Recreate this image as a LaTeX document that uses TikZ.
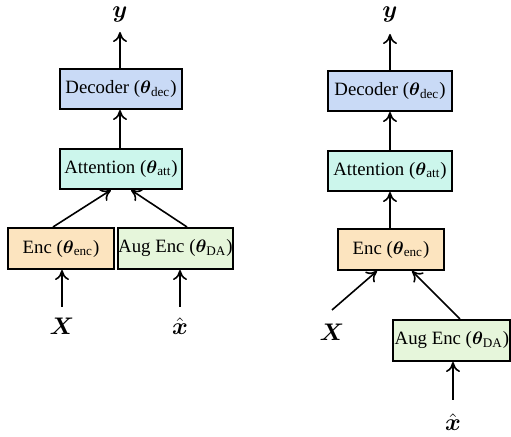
\documentclass[tikz,border=0pt]{standalone}
\usepackage{amsmath}
\usepackage{fontspec}
\setmainfont{Liberation Serif}
\usetikzlibrary{arrows.meta}
\definecolor{decfill}{HTML}{C9DAF6}
\definecolor{attfill}{HTML}{CCF6EC}
\definecolor{encfill}{HTML}{FCE4BF}
\definecolor{augfill}{HTML}{E6F6DB}
\begin{document}
\begin{tikzpicture}[x=0.5pt,y=-0.5pt,
  blk/.style={draw=black,line width=1pt,inner sep=0pt,minimum height=20pt,font=\fontsize{9.4}{11}\selectfont},
  conn/.style={line width=0.8pt,-{To[length=5pt,width=7pt]}},
  lbl/.style={inner sep=0pt,font=\fontsize{11.5}{13}\selectfont}]
\useasboundingbox (0,0) rectangle (511,437);
% left
\node[blk,fill=decfill,minimum width=61pt] (dec1) at (121,89) {Decoder ($\boldsymbol{\theta}_{\text{dec}}$)};
\node[blk,fill=attfill,minimum width=61pt] (att1) at (121,169) {Attention ($\boldsymbol{\theta}_{\text{att}}$)};
\node[blk,fill=encfill,minimum width=53pt,minimum height=20.5pt] (enc1) at (61,248.5) {Enc ($\boldsymbol{\theta}_{\text{enc}}$)};
\node[blk,fill=augfill,minimum width=55.5pt,minimum height=20.5pt] (aug1) at (175.5,248.5) {Aug Enc ($\boldsymbol{\theta}_{\text{DA}}$)};
\node[lbl] (y1) at (120,15) {$\boldsymbol{y}$};
\node[lbl] (X1) at (62,326) {$\boldsymbol{X}$};
\node[lbl] (xh1) at (180,326) {$\hat{\boldsymbol{x}}$};
\coordinate (t1) at (120,32);
\coordinate (s1) at (62,307);
\coordinate (s2) at (180,307);
\draw[conn] (dec1.north -| t1) -- (t1);
\draw[conn] (att1.north -| 120,0) -- (dec1.south -| 120,0);
\draw[conn] (enc1.north -| 53,0) -- (att1.south -| 111,0);
\draw[conn] (aug1.north -| 187,0) -- (att1.south -| 131,0);
\draw[conn] (s1) -- (enc1.south -| s1);
\draw[conn] (s2) -- (aug1.south -| s2);
% right
\node[blk,fill=decfill,minimum width=62pt] (dec2) at (390,91) {Decoder ($\boldsymbol{\theta}_{\text{dec}}$)};
\node[blk,fill=attfill,minimum width=62pt] (att2) at (390,171) {Attention ($\boldsymbol{\theta}_{\text{att}}$)};
\node[blk,fill=encfill,minimum width=53pt,minimum height=20.5pt] (enc2) at (391,249.5) {Enc ($\boldsymbol{\theta}_{\text{enc}}$)};
\node[blk,fill=augfill,minimum width=58.5pt,minimum height=20.5pt] (aug2) at (452,340.5) {Aug Enc ($\boldsymbol{\theta}_{\text{DA}}$)};
\node[lbl] (y2) at (390,15) {$\boldsymbol{y}$};
\node[lbl] (X2) at (332,332) {$\boldsymbol{X}$};
\node[lbl] (xh2) at (453,422) {$\hat{\boldsymbol{x}}$};
\coordinate (t2) at (390,34);
\coordinate (s3) at (332,310);
\coordinate (s4) at (453,400);
\draw[conn] (dec2.north -| t2) -- (t2);
\draw[conn] (att2.north -| 390,0) -- (dec2.south -| 390,0);
\draw[conn] (enc2.north -| 390,0) -- (att2.south -| 390,0);
\draw[conn] (s3) -- (enc2.south -| 377,0);
\draw[conn] (aug2.north -| 460,0) -- (enc2.south -| 412,0);
\draw[conn] (s4) -- (aug2.south -| s4);
\end{tikzpicture}
\end{document}
